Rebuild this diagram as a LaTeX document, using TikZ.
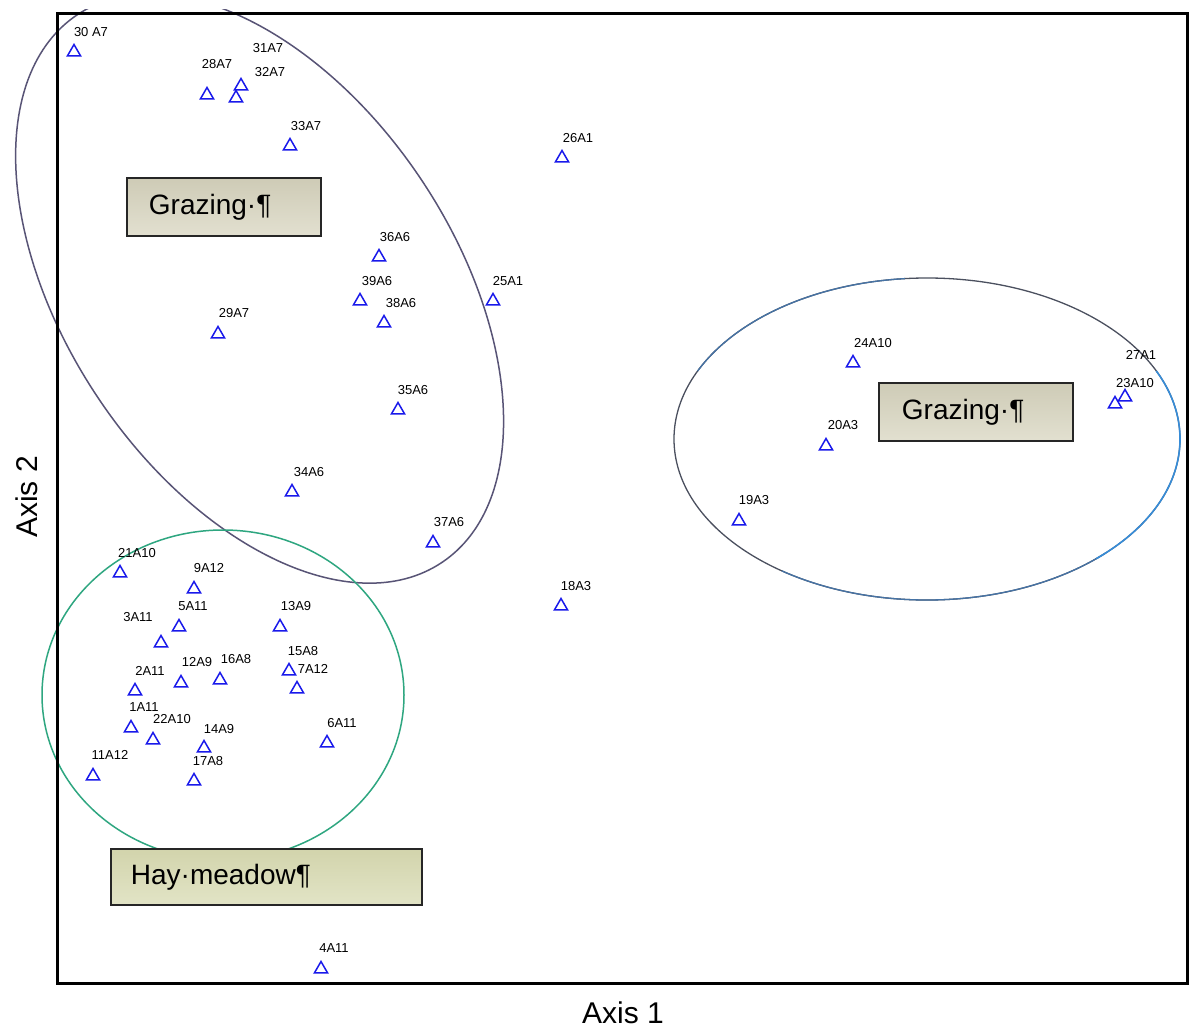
\documentclass[tikz,border=0pt]{standalone}
\usepackage{fontspec}
\setmainfont{Liberation Sans}
\usetikzlibrary{shapes.geometric}
\definecolor{ptblue}{RGB}{25,25,235}
\definecolor{ellpurple}{RGB}{88,84,118}
\definecolor{ellgreen}{RGB}{46,166,128}
\definecolor{ellgray}{RGB}{75,80,95}
\definecolor{ellblue}{RGB}{55,140,215}
\definecolor{ellsoft}{RGB}{70,115,165}
\definecolor{gtop}{RGB}{206,203,182}
\definecolor{gbot}{RGB}{226,224,208}
\definecolor{htop}{RGB}{210,212,172}
\definecolor{hbot}{RGB}{226,228,198}
\begin{document}
\begin{tikzpicture}[x=1pt,y=-1pt,
  tri/.style={regular polygon, regular polygon sides=3, draw=ptblue, line width=1.5pt, inner sep=0pt, minimum size=15pt},
  lab/.style={font=\fontsize{13}{13}\selectfont, inner sep=0pt},
  gbox/.style={draw=black!85, line width=1.8pt, align=left, font=\fontsize{28}{30}\selectfont, minimum height=58pt, inner ysep=0pt, top color=gtop, bottom color=gbot},
  axislab/.style={font=\fontsize{30}{30}\selectfont, inner sep=0pt}]
\useasboundingbox (0,0) rectangle (1194,1028);
\fill[white] (0,0) rectangle (1194,1028);

% ellipses
\begin{scope}
\clip (0,9) rectangle (1194,1028);
\draw[ellpurple, line width=1.5pt, rotate around={-56.4:(259.6,288.6)}] (259.6,288.6) ellipse [x radius=329, y radius=195];
\end{scope}
\draw[ellgreen, line width=1.5pt] (223,695) ellipse [x radius=181, y radius=165];
\draw[ellgray, line width=1.3pt] (927,439) ellipse [x radius=253, y radius=161];
\draw[ellsoft, line width=1.3pt] (927,439) ++({253*cos(45)},{161*sin(45)}) arc[start angle=45, end angle=125, x radius=253, y radius=161];
\draw[ellsoft, line width=1.3pt] (927,439) ++({253*cos(205)},{161*sin(205)}) arc[start angle=205, end angle=265, x radius=253, y radius=161];
\draw[ellblue, line width=1.6pt] (927,439) ++({253*cos(-25)},{161*sin(-25)}) arc[start angle=-25, end angle=48, x radius=253, y radius=161];

% frame
\draw[line width=3pt] (57,13) rectangle (1187,983);

% boxes
\node[gbox, anchor=north west, text width=150pt, inner xsep=22pt] (gz1) at (126,177) {Grazing·¶};
\node[gbox, anchor=north west, text width=148pt, inner xsep=23pt] (gz2) at (878,382) {Grazing·¶};
\node[gbox, anchor=north west, text width=271pt, inner xsep=20pt, minimum height=56pt, top color=htop, bottom color=hbot] (hay) at (110,848) {Hay·meadow¶};

% axis labels
\node[axislab] (ax1) at (623,1013) {Axis 1};
\node[axislab, rotate=90] (ax2) at (27,497) {Axis 2};

% points
\node[tri] (p30a7) at (74,52) {};   \node[lab] (l30a7) at (91,32) {30 A7};
\node[tri] (p28a7) at (207,95) {};  \node[lab] (l28a7) at (217,64) {28A7};
\node[tri] (p31a7) at (241,86) {};  \node[lab] (l31a7) at (268,48) {31A7};
\node[tri] (p32a7) at (236,98) {};  \node[lab] (l32a7) at (270,72) {32A7};
\node[tri] (p33a7) at (290,146) {}; \node[lab] (l33a7) at (306,126) {33A7};
\node[tri] (p26a1) at (562,158) {}; \node[lab] (l26a1) at (578,138) {26A1};
\node[tri] (p36a6) at (379,257) {}; \node[lab] (l36a6) at (395,237) {36A6};
\node[tri] (p39a6) at (360,301) {}; \node[lab] (l39a6) at (377,281) {39A6};
\node[tri] (p38a6) at (384,323) {}; \node[lab] (l38a6) at (401,303) {38A6};
\node[tri] (p25a1) at (493,301) {}; \node[lab] (l25a1) at (508,281) {25A1};
\node[tri] (p29a7) at (218,334) {}; \node[lab] (l29a7) at (234,313) {29A7};
\node[tri] (p35a6) at (398,410) {}; \node[lab] (l35a6) at (413,390) {35A6};
\node[tri] (p34a6) at (292,492) {}; \node[lab] (l34a6) at (309,472) {34A6};
\node[tri] (p37a6) at (433,543) {}; \node[lab] (l37a6) at (449,522) {37A6};
\node[tri] (p18a3) at (561,606) {}; \node[lab] (l18a3) at (576,586) {18A3};
\node[tri] (p21a10) at (120,573) {}; \node[lab] (l21a10) at (137,553) {21A10};
\node[tri] (p9a12) at (194,589) {};  \node[lab] (l9a12) at (209,568) {9A12};
\node[tri] (p5a11) at (179,627) {};  \node[lab] (l5a11) at (193,606) {5A11};
\node[tri] (p3a11) at (161,643) {};  \node[lab] (l3a11) at (138,617) {3A11};
\node[tri] (p13a9) at (280,627) {};  \node[lab] (l13a9) at (296,606) {13A9};
\node[tri] (p15a8) at (289,671) {};  \node[lab] (l15a8) at (303,651) {15A8};
\node[tri] (p7a12) at (297,689) {};  \node[lab] (l7a12) at (313,669) {7A12};
\node[tri] (p16a8) at (220,680) {};  \node[lab] (l16a8) at (236,659) {16A8};
\node[tri] (p12a9) at (181,683) {};  \node[lab] (l12a9) at (197,662) {12A9};
\node[tri] (p2a11) at (135,691) {};  \node[lab] (l2a11) at (150,671) {2A11};
\node[tri] (p1a11) at (131,728) {};  \node[lab] (l1a11) at (144,707) {1A11};
\node[tri] (p22a10) at (153,740) {}; \node[lab] (l22a10) at (172,719) {22A10};
\node[tri] (p14a9) at (204,748) {};  \node[lab] (l14a9) at (219,729) {14A9};
\node[tri] (p6a11) at (327,743) {};  \node[lab] (l6a11) at (342,723) {6A11};
\node[tri] (p11a12) at (93,776) {};  \node[lab] (l11a12) at (110,755) {11A12};
\node[tri] (p17a8) at (194,781) {};  \node[lab] (l17a8) at (208,761) {17A8};
\node[tri] (p4a11) at (321,969) {};  \node[lab] (l4a11) at (334,948) {4A11};
\node[tri] (p24a10) at (853,363) {}; \node[lab] (l24a10) at (873,343) {24A10};
\node[tri] (p27a1) at (1125,397) {}; \node[lab] (l27a1) at (1141,355) {27A1};
\node[tri] (p23a10) at (1115,404) {}; \node[lab] (l23a10) at (1135,383) {23A10};
\node[tri] (p20a3) at (826,446) {};  \node[lab] (l20a3) at (843,425) {20A3};
\node[tri] (p19a3) at (739,521) {};  \node[lab] (l19a3) at (754,500) {19A3};
\end{tikzpicture}
\end{document}
